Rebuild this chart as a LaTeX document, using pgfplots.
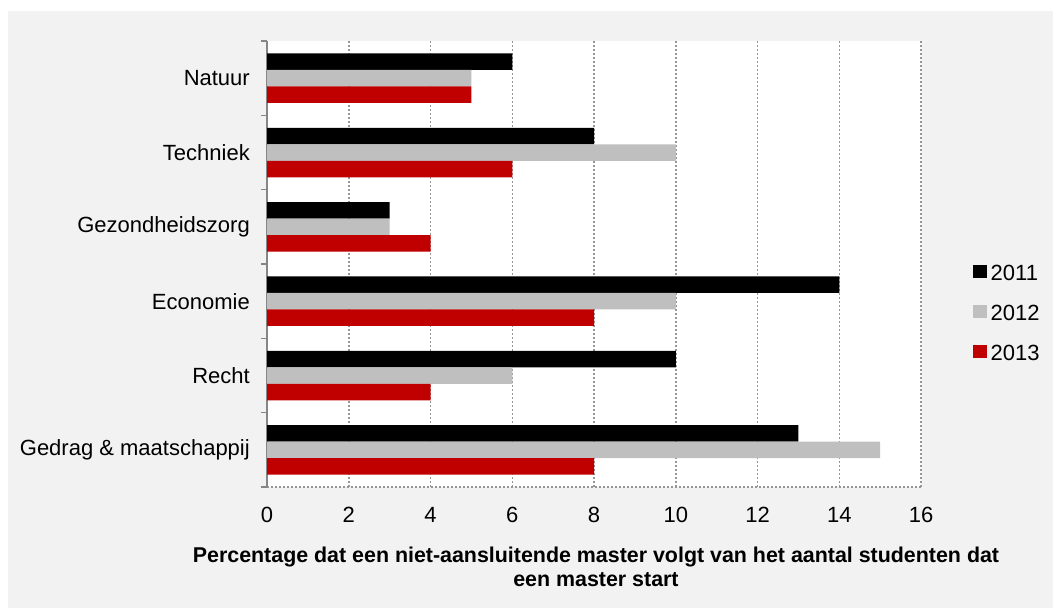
\documentclass[border=0pt]{standalone}
\usepackage{fontspec}
\setmainfont{Liberation Sans}
\usepackage{pgfplots}
\pgfplotsset{compat=1.18}
\definecolor{bg}{HTML}{F2F2F2}
\definecolor{cA}{HTML}{000000}
\definecolor{cB}{HTML}{BFBFBF}
\definecolor{cC}{HTML}{C00000}
\definecolor{gridc}{HTML}{969696}
\definecolor{axc}{HTML}{868686}
\newcommand{\lf}{\fontsize{22bp}{23.5bp}\selectfont}
\newcommand{\xlf}{\fontsize{21.4bp}{23.5bp}\selectfont\bfseries}
\pgfplotsset{sq/.style={legend image code/.code={\fill[##1,draw=none] (0bp,-4.75bp) rectangle (13.5bp,8.75bp);}}}
\begin{document}
\begin{tikzpicture}
\useasboundingbox (0,0) rectangle (1053bp,608bp);
\fill[white] (0,0) rectangle (1053bp,608bp);
\fill[bg] (8bp,0) rectangle (1053bp,597bp);
\begin{axis}[
  at={(267bp,121bp)}, anchor=south west,
  scale only axis, width=654bp, height=446bp,
  xbar, bar width=16.5bp,
  xmin=0, xmax=16, ymin=-0.5, ymax=5.5, y dir=reverse,
  axis x line*=bottom, axis y line*=left,
  x axis line style={-, draw=gridc, line width=1.5bp, dash pattern=on 2bp off 2bp},
  y axis line style={-, draw=axc, line width=2bp},
  axis background/.style={fill=white},
  xtick={0,2,...,16},
  ytick={0,1,2,3,4,5},
  yticklabels={Natuur,Techniek,Gezondheidszorg,Economie,Recht,Gedrag \& maatschappij},
  minor ytick={-0.5,0.5,1.5,2.5,3.5,4.5,5.5},
  major tick length=0pt,
  minor tick length=6bp,
  tick align=outside,
  minor tick style={draw=axc, line width=1.5bp},
  xmajorgrids,
  major grid style={draw=gridc, line width=1.5bp, dash pattern=on 2bp off 2bp},
  /pgf/number format/assume math mode=true,
  ticklabel style={font=\lf, inner sep=0pt},
  xticklabel style={yshift=-20bp},
  yticklabel style={anchor=east, xshift=-17bp},
  xlabel={Percentage dat een niet-aansluitende master volgt van het aantal studenten dat\\een master start},
  xlabel style={at={(axis description cs:0.5,0)}, anchor=north, inner sep=0pt, yshift=-60bp, xshift=2bp, font=\xlf, align=center},
  legend style={at={(axis description cs:1.0795,0.389)}, anchor=west, draw=none, fill=none, inner sep=0pt, font=\lf, row sep=22.8bp, nodes={inner sep=0pt}, /tikz/every odd column/.append style={column sep=4bp}},
  legend cell align=left,
]
\addplot[fill=cA, draw=none, bar shift=16.5bp, sq] coordinates {(6,0) (8,1) (3,2) (14,3) (10,4) (13,5)};
\addplot[fill=cB, draw=none, bar shift=0bp, sq] coordinates {(5,0) (10,1) (3,2) (10,3) (6,4) (15,5)};
\addplot[fill=cC, draw=none, bar shift=-16.5bp, sq] coordinates {(5,0) (6,1) (4,2) (8,3) (4,4) (8,5)};
\legend{2011,2012,2013}
\end{axis}
\end{tikzpicture}
\end{document}
